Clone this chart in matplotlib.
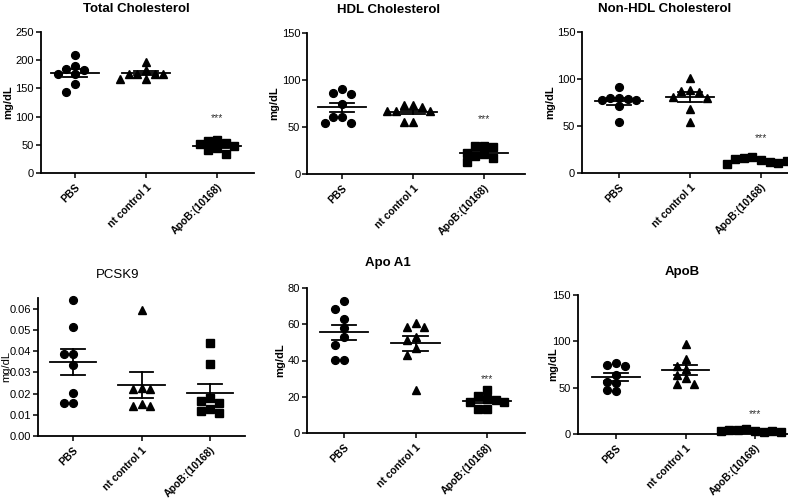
import numpy as np
import matplotlib
matplotlib.use("Agg")
import matplotlib.pyplot as plt

plt.rcParams['font.family'] = ['Liberation Sans', 'DejaVu Sans']

groups = ["PBS", "nt control 1", "ApoB:(10168)"]

# values (one list per group)
total_chol = [[210, 190, 185, 182, 175, 175, 158, 144],
              [197, 182, 176, 176, 176, 176, 166, 166],
              [59, 56, 53, 52, 47, 44, 40, 33]]
hdl_chol = [[90, 86, 85, 75, 61, 61, 54, 54],
            [73, 73, 71, 67, 67, 67, 55, 55],
            [30, 30, 29, 22, 21, 19, 17, 13]]
nonhdl_chol = [[91, 80, 80, 79, 78, 78, 71, 54],
               [101, 88, 87, 86, 81, 80, 68, 54],
               [14, 17, 12, 16, 11, 15, 13, 10]]
pcsk9 = [[0.0641, 0.0515, 0.0388, 0.0388, 0.0335, 0.0201, 0.0157, 0.0157],
         [0.0592, 0.0228, 0.0220, 0.0220, 0.0149, 0.0141, 0.0141],
         [0.0437, 0.0338, 0.0181, 0.0165, 0.0157, 0.0126, 0.0118, 0.0110]]
apoa1 = [[72.6, 68.5, 62.7, 58.2, 52.7, 48.4, 40.4, 40.4],
         [60.5, 58.6, 58.6, 52.7, 51.5, 46.9, 43.3, 23.6],
         [23.6, 20.5, 18.6, 18.0, 17.0, 17.0, 13.5, 13.0]]
apob = [[77, 74, 73, 64, 56, 55, 47, 46],
        [97, 81, 73, 70, 64, 60, 54, 54],
        [3, 5, 2, 4, 3, 4, 2, 3]]

titles = ["Total Cholesterol", "HDL Cholesterol", "Non-HDL Cholesterol",
          "PCSK9", "Apo A1", "ApoB"]
datasets = [total_chol, hdl_chol, nonhdl_chol, pcsk9, apoa1, apob]
ymax = [250, 150, 150, 0.065, 80, 150]
ystep = [50, 50, 50, 0.01, 20, 50]
stars_y = [97, 58, 37, None, 30, 22]

W, H = 788, 499
# pixels: first tick x, last tick x, xlim lo, xlim hi, axes top, axes bottom,
# title centre x, title y, ylabel right edge x
layout = [(75, 217, -0.48, 2.52, 32, 173, 136, 9, 13),
          (342, 484, -0.49, 2.58, 33, 174, 389, 10, 279),
          (619, 761, -0.52, 2.55, 32, 173, 665, 9, 555),
          (73, 210, -0.51, 2.51, 298, 436, 118, 275, 11),
          (344, 487, -0.52, 2.53, 288, 433, 388, 263, 285),
          (616, 755, -0.55, 2.48, 295, 434, 682, 272, 558)]
markers = ['o', '^', 's']


def swarm(vals, yscale, xscale, diam=8.0, step=8.6):
    # greedy beeswarm in pixel space, points placed in list order
    placed = []
    offs = np.zeros(len(vals))
    for i in range(len(vals)):
        y = vals[i] * yscale
        k = 0
        while True:
            cand = [0] if k == 0 else [-k, k]
            ok = None
            for c in cand:
                x = c * step
                if all((x - px) ** 2 + (y - py) ** 2 >= diam ** 2 for px, py in placed):
                    ok = x
                    break
            if ok is not None:
                placed.append((ok, y))
                offs[i] = ok / xscale
                break
            k += 1
    return offs


fig = plt.figure(figsize=(W / 100, H / 100), dpi=100)

for idx, data in enumerate(datasets):
    t0, t2, xlo, xhi, t, b, tx, ty, lx = layout[idx]
    sp = (t2 - t0) / 2
    l = t0 + xlo * sp
    r = t0 + xhi * sp
    ax = fig.add_axes([l / W, 1 - b / H, (r - l) / W, (b - t) / H])
    ax.set_xlim(xlo, xhi)
    ax.set_ylim(0, ymax[idx])
    yscale = (b - t) / ymax[idx]
    for g, vals in enumerate(data):
        vals = np.array(vals, dtype=float)
        offs = swarm(vals, yscale, sp)
        ms = 5.6 if markers[g] != 's' else 5.3
        ax.plot(g + offs, vals, linestyle='none', marker=markers[g], ms=ms,
                color='black', clip_on=False, zorder=3)
        m = vals.mean()
        sem = vals.std(ddof=1) / np.sqrt(len(vals))
        ax.plot([g - 0.34, g + 0.34], [m, m], color='black', lw=1.3, zorder=4)
        ax.plot([g - 0.17, g + 0.17], [m + sem, m + sem], color='black', lw=1.3, zorder=4)
        ax.plot([g - 0.17, g + 0.17], [m - sem, m - sem], color='black', lw=1.3, zorder=4)
        ax.plot([g, g], [m - sem, m + sem], color='black', lw=1.3, zorder=4)
    if stars_y[idx] is not None:
        ax.text(2, stars_y[idx], "***", ha='center', va='center', fontsize=7.5,
                color='#333333')
    yt = np.arange(0, ymax[idx] + 1e-9, ystep[idx])
    ax.set_yticks(yt)
    if idx == 3:
        ax.set_yticklabels(["%.2f" % v for v in yt])
    else:
        ax.set_yticklabels(["%d" % v for v in yt])
    ax.set_xticks(range(3))
    ax.set_xticklabels(groups, rotation=45, ha='right', rotation_mode='anchor',
                       fontsize=7.5, fontweight='bold')
    ax.tick_params(axis='y', labelsize=8, length=3.5, width=1.1, pad=1.5)
    ax.tick_params(axis='x', length=3.5, width=1.1, pad=3)
    for s in ['top', 'right']:
        ax.spines[s].set_visible(False)
    for s in ['left', 'bottom']:
        ax.spines[s].set_linewidth(1.3)
    ax.set_ylabel("mg/dL", fontsize=8, fontweight='normal' if idx == 3 else 'bold')
    ax.yaxis.set_label_coords(-(l - lx) / (r - l), 0.5)
    fig.text(tx / W, 1 - ty / H, titles[idx], ha='center', va='center',
             fontsize=9.5, fontweight='normal' if idx == 3 else 'bold')

fig.savefig("out.png", dpi=100)
